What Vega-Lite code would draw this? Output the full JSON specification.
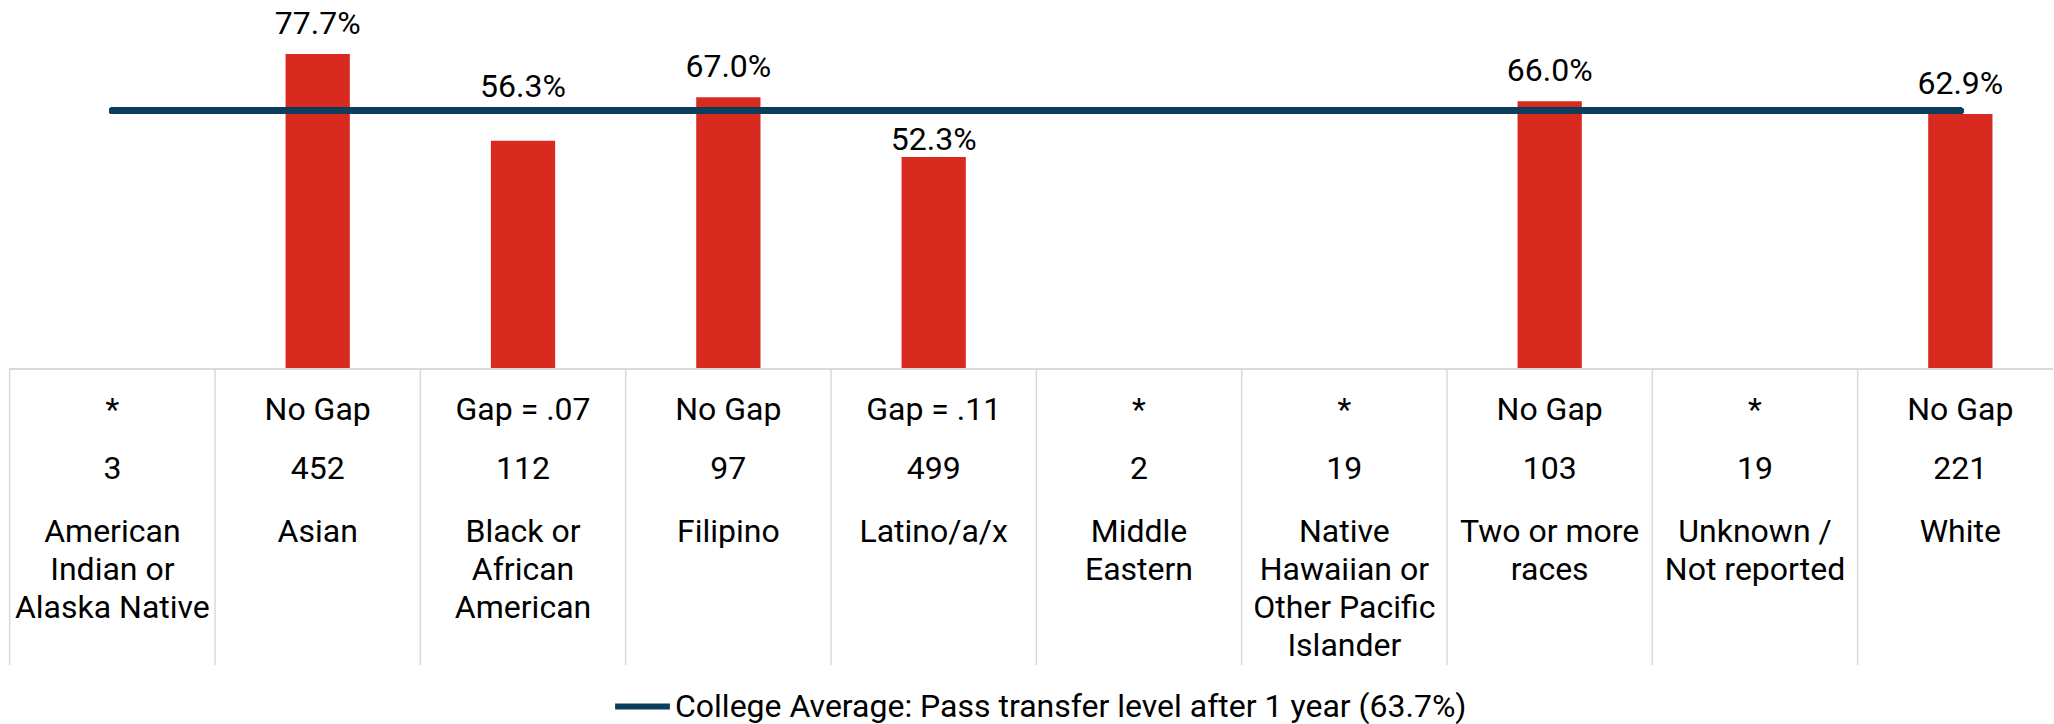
{
  "$schema": "https://vega.github.io/schema/vega-lite/v6.json",
  "background": "white",
  "width": 2054,
  "height": 724,
  "autosize": {"type": "fit", "contains": "padding"},
  "padding": 0,
  "config": {"view": {"stroke": null}, "font": "Roboto"},
  "data": {"values": [
    {"group": "American Indian or Alaska Native", "name": "American\nIndian or\nAlaska Native", "gap": "*", "n": 3, "rate": null},
    {"group": "Asian", "name": "Asian", "gap": "No Gap", "n": 452, "rate": 0.777},
    {"group": "Black or African American", "name": "Black or\nAfrican\nAmerican", "gap": "Gap = .07", "n": 112, "rate": 0.563},
    {"group": "Filipino", "name": "Filipino", "gap": "No Gap", "n": 97, "rate": 0.670},
    {"group": "Latino/a/x", "name": "Latino/a/x", "gap": "Gap = .11", "n": 499, "rate": 0.523},
    {"group": "Middle Eastern", "name": "Middle\nEastern", "gap": "*", "n": 2, "rate": null},
    {"group": "Native Hawaiian or Other Pacific Islander", "name": "Native\nHawaiian or\nOther Pacific\nIslander", "gap": "*", "n": 19, "rate": null},
    {"group": "Two or more races", "name": "Two or more\nraces", "gap": "No Gap", "n": 103, "rate": 0.660},
    {"group": "Unknown / Not reported", "name": "Unknown /\nNot reported", "gap": "*", "n": 19, "rate": null},
    {"group": "White", "name": "White", "gap": "No Gap", "n": 221, "rate": 0.629}
  ]},
  "encoding": {
    "x": {"field": "group", "type": "nominal", "axis": null,
          "scale": {"domain": ["American Indian or Alaska Native", "Asian", "Black or African American", "Filipino", "Latino/a/x", "Middle Eastern", "Native Hawaiian or Other Pacific Islander", "Two or more races", "Unknown / Not reported", "White"],
                    "range": [9.7, 2063], "paddingInner": 0, "paddingOuter": 0}}
  },
  "layer": [
    {
      "transform": [{"filter": "datum.rate != null"}],
      "mark": {"type": "bar", "color": "#D92A20", "width": {"band": 0.313}},
      "encoding": {
        "y": {"field": "rate", "type": "quantitative", "axis": null, "scale": {"domain": [-0.87546, 0.90999], "nice": false, "zero": false}}
      }
    },
    {
      "mark": {"type": "rule", "color": "#D9D9D9", "strokeWidth": 1.5},
      "encoding": {
        "x": {"field": "group", "type": "nominal", "bandPosition": 0},
        "y": {"datum": 0, "type": "quantitative", "axis": null},
        "y2": {"datum": -0.72997}
      }
    },
    {
      "mark": {"type": "rule", "color": "#D9D9D9", "strokeWidth": 1.5},
      "encoding": {
        "x": {"datum": "American Indian or Alaska Native", "type": "nominal", "bandPosition": 0},
        "x2": {"datum": "White", "bandPosition": 0.95},
        "y": {"datum": 0, "type": "quantitative", "axis": null}
      }
    },
    {
      "mark": {"type": "rule", "strokeWidth": 6.5, "strokeCap": "round"},
      "encoding": {
        "x": {"datum": "American Indian or Alaska Native", "type": "nominal", "bandPosition": 0.5},
        "x2": {"datum": "White", "bandPosition": 0.5},
        "y": {"datum": 0.637, "type": "quantitative", "axis": null},
        "stroke": {"datum": "College Average: Pass transfer level after 1 year (63.7%)", "type": "nominal",
                   "scale": {"range": ["#0B3D5C"]},
                   "legend": {"orient": "none", "legendX": 612, "legendY": 676, "title": null, "labelFontSize": 32, "labelFont": "Roboto", "labelColor": "#000000", "symbolType": "stroke", "symbolSize": 3000, "symbolStrokeWidth": 6, "labelOffset": 2, "padding": 0, "labelLimit": 0}}
      }
    },
    {
      "transform": [{"filter": "datum.rate != null && datum.group != 'Black or African American' && datum.group != 'Latino/a/x'"}],
      "mark": {"type": "text", "fontSize": 32, "font": "Roboto", "baseline": "alphabetic", "align": "center", "dy": -20, "color": "#000000"},
      "encoding": {"y": {"field": "rate", "type": "quantitative", "axis": null}, "text": {"field": "rate", "format": ".1%"}}
    },
    {
      "transform": [{"filter": "datum.group == 'Black or African American'"}],
      "mark": {"type": "text", "fontSize": 32, "font": "Roboto", "baseline": "alphabetic", "align": "center", "dy": -44, "color": "#000000"},
      "encoding": {"y": {"field": "rate", "type": "quantitative", "axis": null}, "text": {"field": "rate", "format": ".1%"}}
    },
    {
      "transform": [{"filter": "datum.group == 'Latino/a/x'"}],
      "mark": {"type": "text", "fontSize": 32, "font": "Roboto", "baseline": "alphabetic", "align": "center", "dy": -7, "color": "#000000"},
      "encoding": {"y": {"field": "rate", "type": "quantitative", "axis": null}, "text": {"field": "rate", "format": ".1%"}}
    },
    {
      "mark": {"type": "text", "fontSize": 32, "font": "Roboto", "baseline": "alphabetic", "align": "center", "color": "#000000"},
      "encoding": {"y": {"datum": -0.12577, "type": "quantitative", "axis": null}, "text": {"field": "gap"}}
    },
    {
      "mark": {"type": "text", "fontSize": 32, "font": "Roboto", "baseline": "alphabetic", "align": "center", "color": "#000000"},
      "encoding": {"y": {"datum": -0.27127, "type": "quantitative", "axis": null}, "text": {"field": "n"}}
    },
    {
      "mark": {"type": "text", "fontSize": 32, "font": "Roboto", "baseline": "alphabetic", "align": "center", "lineBreak": "\n", "lineHeight": 38, "color": "#000000"},
      "encoding": {"y": {"datum": -0.4259, "type": "quantitative", "axis": null}, "text": {"field": "name"}}
    }
  ]
}
